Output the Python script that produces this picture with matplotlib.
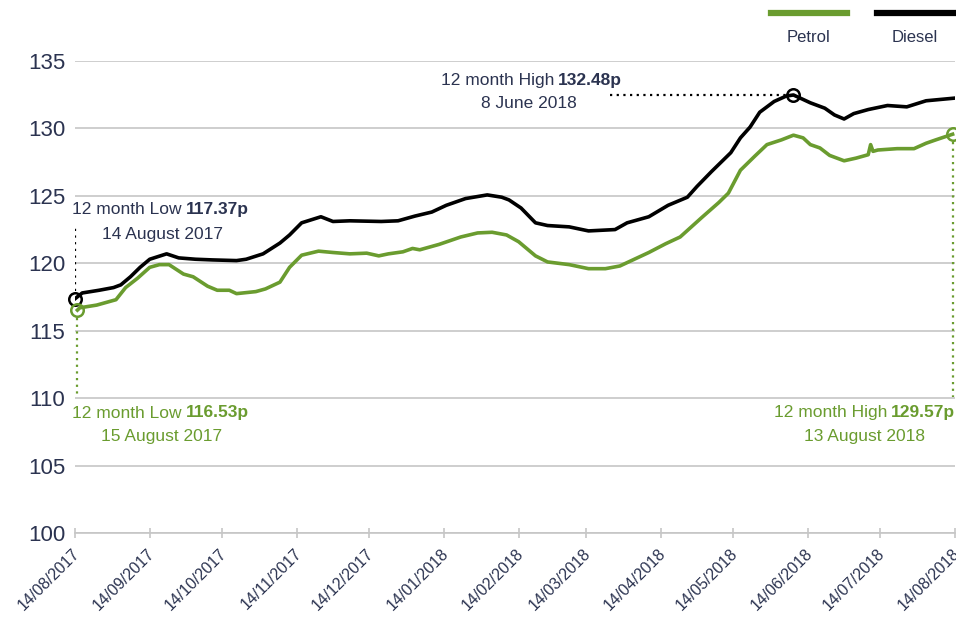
import pandas as pd
import matplotlib.pyplot as plt
import matplotlib.transforms as mtransforms
from matplotlib.lines import Line2D

plt.rcParams['font.family'] = ['Liberation Sans', 'DejaVu Sans']

START = pd.Timestamp('2017-08-14')

# Daily average pump prices (pence per litre), sampled by days since START
diesel_days = [0, 3, 10, 16, 19, 23, 27, 31, 38, 43, 50, 57, 67, 71, 78, 85, 89, 94,
               102, 107, 114, 127, 134, 141, 148, 154, 162, 171, 177, 180, 185, 191,
               196, 205, 213, 224, 229, 238, 246, 254, 258, 264, 272, 276, 280, 284,
               290, 295, 298, 305, 311, 315, 319, 323, 329, 337, 345, 353, 365]
diesel_price = [117.37, 117.8, 118.0, 118.2, 118.4, 119.0, 119.7, 120.3, 120.7, 120.4,
                120.3, 120.25, 120.2, 120.3, 120.7, 121.5, 122.1, 123.0, 123.45, 123.1,
                123.15, 123.1, 123.15, 123.5, 123.8, 124.3, 124.8, 125.07, 124.9, 124.7,
                124.1, 123.0, 122.8, 122.7, 122.4, 122.5, 123.0, 123.45, 124.3, 124.9,
                125.7, 126.8, 128.2, 129.3, 130.1, 131.2, 132.0, 132.4, 132.48, 131.9,
                131.5, 131.0, 130.7, 131.1, 131.4, 131.7, 131.6, 132.05, 132.25]

petrol_days = [1, 2, 9, 17, 21, 26, 31, 35, 39, 45, 49, 55, 59, 64, 67, 75, 79, 85,
               89, 94, 101, 107, 114, 121, 126, 130, 136, 140, 143, 151, 160, 167, 173,
               179, 184, 191, 196, 205, 213, 220, 226, 232, 238, 245, 251, 260, 267,
               271, 276, 282, 287, 293, 298, 302, 305, 309, 313, 319, 324, 329, 330,
               331, 333, 341, 348, 353, 357, 364]
petrol_price = [116.53, 116.7, 116.9, 117.3, 118.2, 118.9, 119.7, 119.9, 119.9, 119.2,
                119.0, 118.3, 118.0, 118.0, 117.75, 117.9, 118.1, 118.6, 119.7, 120.6,
                120.9, 120.8, 120.7, 120.75, 120.55, 120.7, 120.85, 121.1, 121.0, 121.4,
                121.95, 122.25, 122.3, 122.1, 121.6, 120.55, 120.1, 119.9, 119.6, 119.6,
                119.8, 120.3, 120.8, 121.45, 121.95, 123.4, 124.5, 125.2, 126.9, 127.95,
                128.8, 129.15, 129.5, 129.3, 128.8, 128.55, 128.0, 127.6, 127.8, 128.05,
                128.8, 128.3, 128.4, 128.5, 128.5, 128.9, 129.15, 129.57]

tick_labels = ['14/08/2017', '14/09/2017', '14/10/2017', '14/11/2017', '14/12/2017',
               '14/01/2018', '14/02/2018', '14/03/2018', '14/04/2018', '14/05/2018',
               '14/06/2018', '14/07/2018', '14/08/2018']

GREEN = '#6a9c2f'
BLACK = '#000000'
NAVY = '#2b3350'
GRID = '#c6c6c6'


def to_dates(days):
    return START + pd.to_timedelta(days, unit='D')


diesel_dates = to_dates(diesel_days)
petrol_dates = to_dates(petrol_days)

fig = plt.figure(figsize=(9.56, 6.21), dpi=100)
W, H = 956, 621
ax = fig.add_axes([75 / W, 1 - 533 / H, 880 / W, (533 - 61) / H])

ax.plot(petrol_dates, petrol_price, color=GREEN, lw=2.6, solid_joinstyle='round')
ax.plot(diesel_dates, diesel_price, color=BLACK, lw=2.6, solid_joinstyle='round')

ax.set_ylim(100, 135)
ax.set_xlim(START, START + pd.Timedelta(days=365))
ax.set_yticks(range(100, 136, 5))
ax.grid(axis='y', color=GRID, lw=1.2)
ax.set_axisbelow(True)
for side in ['top', 'right', 'left']:
    ax.spines[side].set_visible(False)
ax.spines['bottom'].set_color(GRID)
ax.spines['bottom'].set_linewidth(1.2)

ax.set_xticks(pd.to_datetime(tick_labels, format='%d/%m/%Y'))
ax.set_xticklabels(tick_labels, rotation=45, ha='right', rotation_mode='anchor')
ax.tick_params(axis='x', direction='inout', length=7, width=1.2, color=GRID,
               labelsize=11.5, labelcolor=NAVY, pad=6)
ax.tick_params(axis='y', length=0, labelsize=16, labelcolor=NAVY, pad=7)

# nudge the date labels a little left so the last one stays on the canvas
shift = mtransforms.ScaledTranslation(-3 / 100, 0, fig.dpi_scale_trans)
for lab in ax.get_xticklabels():
    lab.set_transform(lab.get_transform() + shift)

# Min / max markers with dotted guides
d_low = (to_dates([0])[0], 117.37)
p_low = (to_dates([1])[0], 116.53)
d_high = (to_dates([298])[0], 132.48)
p_high = (to_dates([364])[0], 129.57)

for (x, y), c in [(d_low, BLACK), (p_low, GREEN), (d_high, BLACK), (p_high, GREEN)]:
    ax.plot(x, y, 'o', ms=9, mfc='none', mec=c, mew=1.8, clip_on=False, zorder=6)

ax.plot([d_low[0], d_low[0]], [117.95, 122.6], ls=(0, (1, 2)), color=BLACK, lw=1.6)
ax.plot([p_low[0], p_low[0]], [115.95, 110.1], ls=(0, (1, 2)), color=GREEN, lw=1.6)
ax.plot([p_high[0], p_high[0]], [129.0, 110.1], ls=(0, (1, 2)), color=GREEN, lw=1.6)
ax.plot([to_dates([222])[0], to_dates([296])[0]], [132.48, 132.48],
        ls=(0, (1, 2)), color=BLACK, lw=1.6)


def px(x, y):
    return x / W, 1 - y / H


fig.canvas.draw()
renderer = fig.canvas.get_renderer()


def label_left(x, y, plain, bold, color):
    t = fig.text(*px(x, y), plain, color=color, fontsize=12.5, ha='left', va='center')
    bb = t.get_window_extent(renderer)
    fig.text(bb.x1 / W + 4 / W, px(x, y)[1], bold, color=color, fontsize=12.5,
             fontweight='bold', ha='left', va='center')


def label_right(x, y, plain, bold, color):
    t = fig.text(*px(x, y), bold, color=color, fontsize=12.5, fontweight='bold',
                 ha='right', va='center')
    bb = t.get_window_extent(renderer)
    fig.text(bb.x0 / W - 4 / W, px(x, y)[1], plain, color=color, fontsize=12.5,
             ha='right', va='center')


label_left(72, 210, '12 month Low', '117.37p', NAVY)
fig.text(*px(162, 235), '14 August 2017', color=NAVY, fontsize=12.5, ha='center', va='center')

label_left(72, 413, '12 month Low', '116.53p', GREEN)
fig.text(*px(162, 437), '15 August 2017', color=GREEN, fontsize=12.5, ha='center', va='center')

label_right(622, 80, '12 month High', '132.48p', NAVY)
fig.text(*px(529, 104), '8 June 2018', color=NAVY, fontsize=12.5, ha='center', va='center')

label_right(955, 413, '12 month High', '129.57p', GREEN)
fig.text(*px(865, 437), '13 August 2018', color=GREEN, fontsize=12.5, ha='center', va='center')

# Legend drawn above the plot
for x0, x1, c, name in [(771, 847, GREEN, 'Petrol'), (877, 953, BLACK, 'Diesel')]:
    fig.add_artist(Line2D([x0 / W, x1 / W], [1 - 13 / H, 1 - 13 / H], color=c, lw=4.5))
    fig.text(*px((x0 + x1) / 2, 38), name, color=NAVY, fontsize=12, ha='center', va='center')

fig.savefig('out.png', dpi=100)
